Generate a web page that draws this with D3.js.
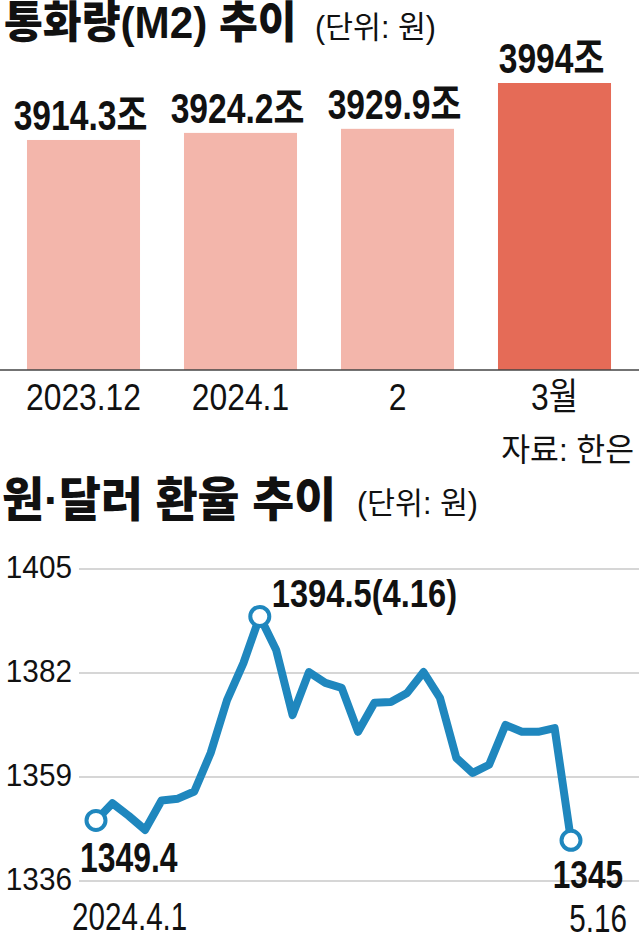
<!DOCTYPE html>
<html><head><meta charset="utf-8">
<script src="https://cdn.jsdelivr.net/npm/d3@7"></script>
<style>
html,body{margin:0;padding:0;background:#fff;}
svg{display:block;}
text{font-family:"Liberation Sans","Noto Sans CJK KR",sans-serif;fill:#111;}
</style></head>
<body>
<script>
// ---- Data ----
const m2Categories = ["2023.12", "2024.1", "2", "3월"];
const m2Values = [3914.3, 3924.2, 3929.9, 3994];
const m2Labels = ["3914.3조", "3924.2조", "3929.9조", "3994조"];

const fxDates = ["4.1","4.2","4.3","4.4","4.5","4.8","4.9","4.11","4.12","4.15","4.16","4.17","4.18","4.19","4.22","4.23","4.24","4.25","4.26","4.29","4.30","5.2","5.3","5.7","5.8","5.9","5.10","5.13","5.14","5.16"];
const fxValues = [1349.4,1353.2,1350.4,1347.3,1353.8,1354.2,1355.8,1364.3,1376.0,1384.2,1394.5,1387.1,1372.7,1382.2,1379.8,1378.7,1369.0,1375.4,1375.6,1377.6,1382.2,1376.5,1363.2,1359.9,1361.7,1370.5,1369.0,1369.0,1369.8,1345.0];
const fxTicks = [1336, 1359, 1382, 1405];

const W = 639, H = 934;
const svg = d3.select("body").append("svg").attr("width", W).attr("height", H);

function txt(parent, x, y, s, o) {
  return parent.append("text")
    .attr("transform", `translate(${x},${y}) scale(${o.sx || 1},1)`)
    .attr("text-anchor", o.anchor || "start")
    .attr("font-size", o.size)
    .attr("font-weight", o.weight || 400)
    .text(s);
}

// ---- Title 1 ----
txt(svg, 4, 38, "통화량(M2) 추이", {size: 44, weight: 900, sx: 0.96});
txt(svg, 315, 38, "(단위: 원)", {size: 31, sx: 0.98});

// ---- Bar chart ----
const base = 3592.6;
const xb = d3.scaleBand().domain(m2Categories).range([5, 633]).paddingInner(0.28).paddingOuter(0.14);
const yb = d3.scaleLinear().domain([base, 3994]).range([370, 83]);

svg.append("g").selectAll("rect").data(m2Values).join("rect")
  .attr("x", (d, i) => xb(m2Categories[i]))
  .attr("width", xb.bandwidth())
  .attr("y", d => yb(d))
  .attr("height", d => yb(base) - yb(d))
  .attr("fill", (d, i) => i === m2Values.length - 1 ? "#e56b57" : "#f3b6ab");

svg.append("g").selectAll("text").data(m2Values).join("text")
  .attr("transform", (d, i) => `translate(${xb(m2Categories[i]) + xb.bandwidth() / 2 - 3},${yb(d) - 10}) scale(0.8,1)`)
  .attr("text-anchor", "middle")
  .attr("font-size", 42).attr("font-weight", 700)
  .text((d, i) => m2Labels[i]);

const xAxis = svg.append("g").attr("transform", "translate(0,370)")
  .call(d3.axisBottom(xb).tickSize(0).tickPadding(0));
xAxis.select(".domain").remove();
xAxis.append("line").attr("x1", 0).attr("x2", W).attr("stroke", "#444").attr("stroke-width", 1.5);
xAxis.selectAll(".tick text")
  .attr("y", 0).attr("dy", 0)
  .attr("transform", "translate(0,40) scale(0.86,1)")
  .attr("font-size", 37).attr("fill", "#111")
  .style("font-family", '"Liberation Sans","Noto Sans CJK KR",sans-serif');

txt(svg, 634, 461, "자료: 한은", {size: 32, anchor: "end", sx: 0.98});

// ---- Title 2 ----
txt(svg, 2, 516, "원·달러 환율 추이", {size: 47, weight: 900, sx: 0.97});
txt(svg, 357, 514, "(단위: 원)", {size: 31, sx: 0.98});

// ---- Line chart ----
const xl = d3.scalePoint().domain(fxDates).range([96, 571]);
const yl = d3.scaleLinear().domain([1336, 1405]).range([881, 569]);

svg.append("g").selectAll("line").data(fxTicks).join("line")
  .attr("x1", 79).attr("x2", W)
  .attr("y1", d => yl(d)).attr("y2", d => yl(d))
  .attr("stroke", "#c8c8c8").attr("stroke-width", 1.5);

const yAxis = svg.append("g").attr("transform", "translate(72,0)")
  .call(d3.axisLeft(yl).tickValues(fxTicks).tickSize(0).tickPadding(0).tickFormat(d3.format("d")));
yAxis.select(".domain").remove();
yAxis.selectAll(".tick text")
  .attr("x", 0).attr("dy", 0)
  .attr("transform", "translate(0,8) scale(0.93,1)")
  .attr("font-size", 32).attr("fill", "#111")
  .style("font-family", '"Liberation Sans",sans-serif');

const line = d3.line().x((d, i) => xl(fxDates[i])).y(d => yl(d));
svg.append("path").datum(fxValues).attr("d", line)
  .attr("fill", "none").attr("stroke", "#1f87be").attr("stroke-width", 8)
  .attr("stroke-linejoin", "round").attr("stroke-linecap", "round");

const iMax = fxValues.indexOf(d3.max(fxValues)), iLast = fxValues.length - 1;
const marks = [0, iMax, iLast];
svg.append("g").selectAll("circle").data(marks).join("circle")
  .attr("cx", i => xl(fxDates[i])).attr("cy", i => yl(fxValues[i]))
  .attr("r", 9.5).attr("fill", "#fff").attr("stroke", "#1f87be").attr("stroke-width", 4);

txt(svg, xl(fxDates[0]) - 16, yl(fxValues[0]) + 52, d3.format(".1f")(fxValues[0]), {size: 42, weight: 700, sx: 0.76});
txt(svg, xl(fxDates[iMax]) + 12, yl(fxValues[iMax]) - 9, `${d3.format(".1f")(fxValues[iMax])}(${fxDates[iMax]})`, {size: 38, weight: 700, sx: 0.86});
txt(svg, xl(fxDates[iLast]) + 52, yl(fxValues[iLast]) + 48, String(fxValues[iLast]), {size: 39, weight: 700, sx: 0.81, anchor: "end"});
txt(svg, 72, 930, "2024." + fxDates[0], {size: 39, sx: 0.76});
txt(svg, 627, 932, fxDates[iLast], {size: 38, sx: 0.78, anchor: "end"});
</script>
</body></html>
